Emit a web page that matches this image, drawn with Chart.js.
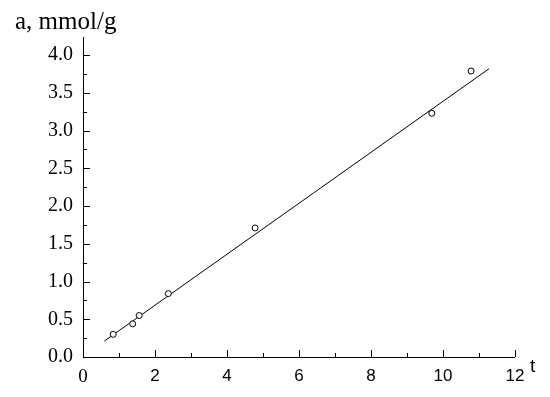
<!DOCTYPE html>
<html>
<head>
<meta charset="utf-8">
<script src="https://cdn.jsdelivr.net/npm/chart.js@4/dist/chart.umd.min.js"></script>
<style>
  html, body { margin: 0; padding: 0; background: #fff; }
  #wrap { width: 550px; height: 397px; }
</style>
</head>
<body>
<div id="wrap"><canvas id="chart" width="550" height="397"></canvas></div>
<script>
// measured points (t, a)
const tValues = [0.84, 1.38, 1.56, 2.37, 4.78, 9.69, 10.78];
const aValues = [0.30, 0.44, 0.55, 0.84, 1.71, 3.23, 3.79];

// fitted line ends
const fitT = [0.59, 11.28];
const fitA = [0.21, 3.82];

const xMajorTicks = [0, 2, 4, 6, 8, 10, 12];
const xMinorTicks = [1, 3, 5, 7, 9, 11];
const yMajorTicks = [0, 0.5, 1, 1.5, 2, 2.5, 3, 3.5, 4];
const yMinorTicks = [0.25, 0.75, 1.25, 1.75, 2.25, 2.75, 3.25, 3.75];

// axis lines, inward ticks and the two axis titles
const axesPlugin = {
  id: 'axes',
  afterDatasetsDraw(chart) {
    const { ctx, chartArea: a, scales: { x, y } } = chart;
    ctx.save();
    ctx.strokeStyle = '#000';
    ctx.lineWidth = 1;
    ctx.beginPath();
    ctx.moveTo(a.left + 0.5, a.top);
    ctx.lineTo(a.left + 0.5, a.bottom + 0.5);
    ctx.lineTo(a.right, a.bottom + 0.5);
    xMajorTicks.forEach(v => {
      const px = Math.round(x.getPixelForValue(v)) + 0.5;
      ctx.moveTo(px, a.bottom); ctx.lineTo(px, a.bottom - 7);
    });
    xMinorTicks.forEach(v => {
      const px = Math.round(x.getPixelForValue(v)) + 0.5;
      ctx.moveTo(px, a.bottom); ctx.lineTo(px, a.bottom - 4);
    });
    yMajorTicks.forEach(v => {
      const py = Math.round(y.getPixelForValue(v)) + 0.5;
      ctx.moveTo(a.left, py); ctx.lineTo(a.left + 7, py);
    });
    yMinorTicks.forEach(v => {
      const py = Math.round(y.getPixelForValue(v)) + 0.5;
      ctx.moveTo(a.left, py); ctx.lineTo(a.left + 4, py);
    });
    ctx.stroke();

    ctx.fillStyle = '#000';
    ctx.textBaseline = 'alphabetic';
    ctx.font = '25px "Liberation Serif"';
    ctx.fillText('a, mmol/g', 15, 29);
    ctx.font = '19px "Liberation Sans"';
    ctx.fillText('t', 530, 372);
    ctx.restore();
  }
};

new Chart(document.getElementById('chart'), {
  type: 'scatter',
  data: {
    datasets: [
      {
        label: 'data',
        data: tValues.map((t, i) => ({ x: t, y: aValues[i] })),
        pointStyle: 'circle',
        pointRadius: 3,
        pointBorderWidth: 1,
        pointBorderColor: '#000',
        pointBackgroundColor: '#fff',
        showLine: false
      },
      {
        label: 'fit',
        data: fitT.map((t, i) => ({ x: t, y: fitA[i] })),
        showLine: true,
        borderColor: '#000',
        borderWidth: 1,
        pointRadius: 0
      }
    ]
  },
  options: {
    responsive: false,
    animation: false,
    layout: { padding: { left: 0, right: 35, top: 37, bottom: 0 } },
    plugins: { legend: { display: false }, tooltip: { enabled: false } },
    scales: {
      x: {
        type: 'linear',
        min: 0,
        max: 12,
        afterFit(s) { s.height = 40; },
        afterBuildTicks(s) { s.ticks = xMajorTicks.map(v => ({ value: v })); },
        grid: { display: false, drawTicks: false },
        border: { display: false },
        ticks: {
          color: '#000',
          padding: 9,
          // the zero label is set in the serif face, the rest in sans
          font: c => c.tick && c.tick.value === 0
            ? { family: 'Liberation Serif', size: 19 }
            : { family: 'Liberation Sans', size: 17 },
          callback: v => String(v)
        }
      },
      y: {
        type: 'linear',
        min: 0,
        max: 4.24,
        afterFit(s) { s.width = 83; },
        afterBuildTicks(s) { s.ticks = yMajorTicks.map(v => ({ value: v })); },
        grid: { display: false, drawTicks: false },
        border: { display: false },
        ticks: {
          color: '#000',
          padding: 10,
          font: { family: 'Liberation Serif', size: 20 },
          callback: v => Number(v).toFixed(1)
        }
      }
    }
  },
  plugins: [axesPlugin]
});
</script>
</body>
</html>
